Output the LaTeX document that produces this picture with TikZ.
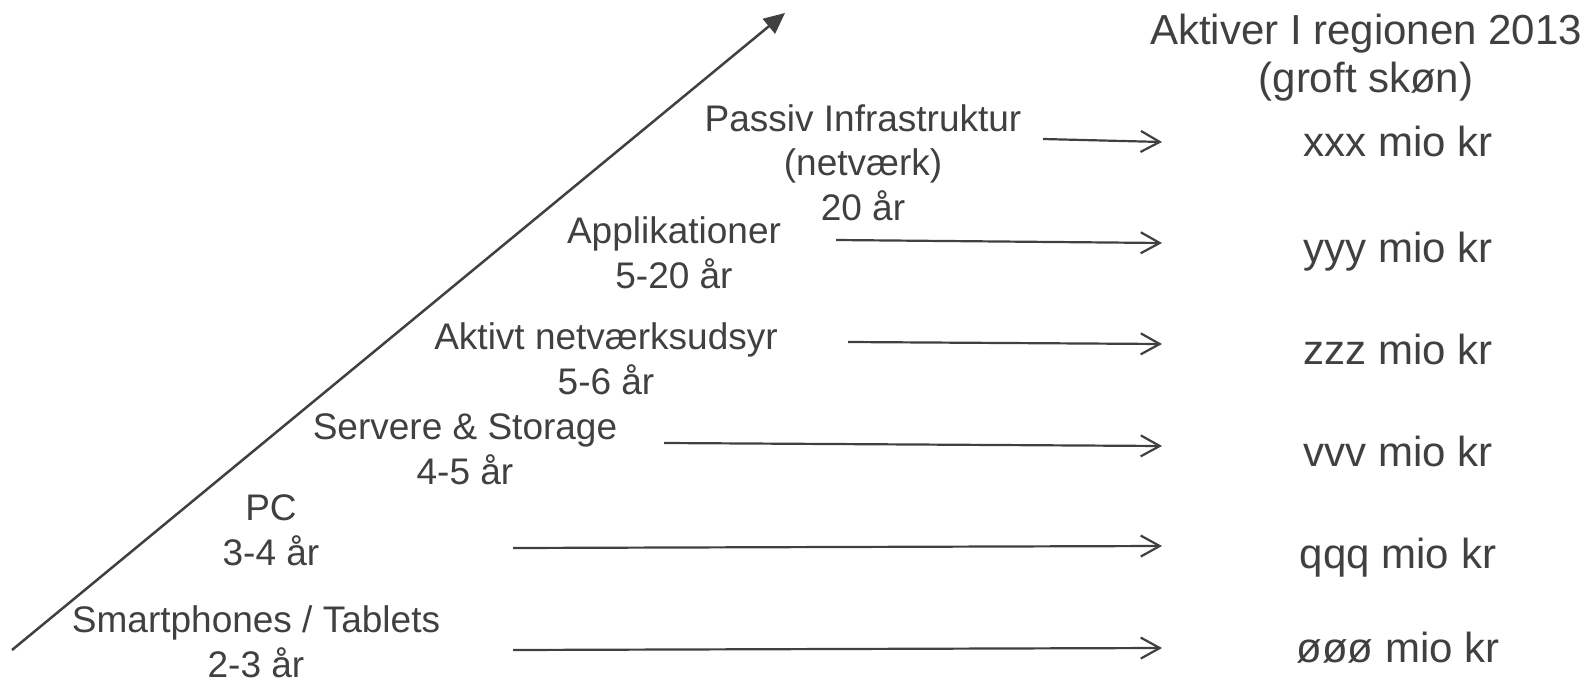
\documentclass[tikz,border=0pt]{standalone}
\usepackage{fontspec}
\setmainfont{Liberation Sans}
\usetikzlibrary{arrows.meta}
\definecolor{ink}{HTML}{404040}
\begin{document}
\begin{tikzpicture}[x=1pt,y=-1pt,
  lbl/.style={align=center, text=ink, inner sep=0pt, font=\fontsize{37}{44.5}\selectfont, anchor=base},
  val/.style={align=center, text=ink, inner sep=0pt, font=\fontsize{42}{48}\selectfont, anchor=base},
  conn/.style={draw=ink, line width=2.2pt, -{Straight Barb[length=19pt,width=21pt]}},
  axis/.style={draw=ink, line width=2.5pt, -{Triangle[length=21pt,width=19pt]}}]
\useasboundingbox (0,0) rectangle (1590,682);
% diagonal axis
\coordinate (d0) at (12,650);
\coordinate (d1) at (785,13);
\draw[axis] (d0) -- (d1);
% labels (anchored at the baseline of their last line)
\node[lbl] (passiv) at (863,220) {Passiv Infrastruktur\\(netværk)\\20 år};
\node[lbl] (appl) at (674,288) {Applikationer\\5-20 år};
\node[lbl] (aktivt) at (606,394) {Aktivt netværksudsyr\\5-6 år};
\node[lbl] (server) at (465,484) {Servere \& Storage\\4-5 år};
\node[lbl] (pc) at (271,565) {PC\\3-4 år};
\node[lbl] (smart) at (256,677) {Smartphones / Tablets\\2-3 år};
% header and values
\node[val] (head) at (1366,93) {Aktiver I regionen 2013\\(groft skøn)};
\node[val] (vx) at (1398,157) {xxx mio kr};
\node[val] (vy) at (1398,262) {yyy mio kr};
\node[val] (vz) at (1398,364) {zzz mio kr};
\node[val] (vv) at (1398,466) {vvv mio kr};
\node[val] (vq) at (1398,568) {qqq mio kr};
\node[val] (vo) at (1398,662) {øøø mio kr};
% connectors
\coordinate (s1) at (1043,139); \coordinate (e1) at (1162,142);
\coordinate (s2) at (836,240);  \coordinate (e2) at (1162,243);
\coordinate (s3) at (848,342);  \coordinate (e3) at (1162,344);
\coordinate (s4) at (664,443);  \coordinate (e4) at (1162,446);
\coordinate (s5) at (513,548);  \coordinate (e5) at (1162,546);
\coordinate (s6) at (513,650);  \coordinate (e6) at (1162,648);
\draw[conn] (s1) -- (e1);
\draw[conn] (s2) -- (e2);
\draw[conn] (s3) -- (e3);
\draw[conn] (s4) -- (e4);
\draw[conn] (s5) -- (e5);
\draw[conn] (s6) -- (e6);
\end{tikzpicture}
\end{document}
